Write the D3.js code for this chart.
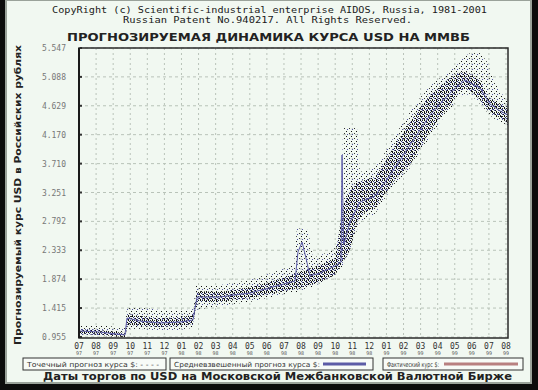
<!DOCTYPE html>
<html>
<head>
<meta charset="utf-8">
<script src="https://cdn.jsdelivr.net/npm/d3@7"></script>
<style>
    body { margin: 0; background: #0c0c0c; }
    svg { display: block; }
</style>
</head>
<body>
<div id="chart"></div>
<script>
var months = ["07", "08", "09", "10", "11", "12", "01", "02", "03", "04", "05", "06", "07",
    "08", "09", "10", "11", "12", "01", "02", "03", "04", "05", "06", "07", "08"];
var years = ["97", "97", "97", "97", "97", "97", "98", "98", "98", "98", "98", "98", "98",
    "98", "98", "98", "98", "98", "99", "99", "99", "99", "99", "99", "99", "99"];
var y_ticks = [0.955, 1.415, 1.874, 2.333, 2.792, 3.251, 3.710, 4.170, 4.629, 5.088, 5.547];

// t = months since July 1997
// whole cloud of point forecasts (sparse edge)
var cloud_t = [0, 1.23, 2.69, 2.81, 3.57, 4.74, 5.91, 6.67, 6.85, 8.26, 10.01, 11.77, 12.59, 12.76,
    13.41, 13.70, 14.87, 15.28, 15.46, 16.28, 16.45, 17.33, 17.92, 18.50, 19.38, 19.96, 20.55,
    21.14, 21.72, 22.19, 22.60, 23.01, 23.48, 23.89, 24.24, 24.65, 25.12];
var cloud_hi = [1.146, 1.146, 1.098, 1.416, 1.432, 1.384, 1.368, 1.400, 1.765, 1.781, 1.861, 2.020, 2.099, 2.687,
    2.655, 2.210, 2.337, 2.496, 4.276, 4.276, 3.577, 3.640, 3.894, 4.165, 4.530, 4.752, 4.943,
    5.070, 5.197, 5.293, 5.420, 5.483, 5.483, 5.324, 5.070, 4.848, 4.721];
var cloud_lo = [0.971, 0.971, 0.955, 1.082, 1.082, 1.050, 1.066, 1.098, 1.384, 1.448, 1.511, 1.622, 1.670, 1.670,
    1.734, 1.749, 1.924, 2.020, 2.083, 2.655, 2.782, 2.909, 3.163, 3.386, 3.640, 3.894, 4.133,
    4.371, 4.562, 4.752, 4.816, 4.784, 4.657, 4.530, 4.435, 4.371, 4.308];

// dense core of the point forecasts
var core_t = [0, 1.23, 2.69, 2.87, 3.57, 4.74, 5.91, 6.67, 6.91, 8.26, 10.01, 11.77, 12.94, 14.11, 14.99,
    15.46, 15.87, 16.28, 16.74, 17.33, 17.92, 18.50, 19.38, 19.96, 20.55, 21.14, 21.72, 22.19,
    22.60, 23.01, 23.48, 23.89, 24.24, 24.65, 25.12];
var core_hi = [1.082, 1.066, 1.019, 1.320, 1.289, 1.257, 1.273, 1.305, 1.686, 1.670, 1.749, 1.876, 1.988, 2.099, 2.210,
    3.052, 3.291, 3.418, 3.449, 3.497, 3.735, 4.006, 4.371, 4.594, 4.800, 4.943, 5.070, 5.150,
    5.166, 5.118, 5.038, 4.784, 4.721, 4.657, 4.609];
var core_lo = [1.003, 0.987, 0.955, 1.146, 1.130, 1.114, 1.130, 1.162, 1.511, 1.511, 1.575, 1.670, 1.734, 1.829, 1.940,
    2.147, 2.337, 2.782, 2.941, 3.005, 3.227, 3.450, 3.688, 3.958, 4.212, 4.451, 4.625, 4.848,
    4.911, 4.848, 4.721, 4.562, 4.498, 4.435, 4.355];

// weighted forecast
var avg_t = [0, 1.23, 2.69, 2.81, 3.57, 4.74, 5.91, 6.67, 6.91, 8.26, 10.01, 11.77, 12.65, 12.82, 13.06,
    13.29, 13.52, 14.11, 14.99, 15.34, 15.40, 15.49, 15.87, 16.45, 17.33, 18.21, 19.38, 20.55,
    21.72, 22.60, 23.48, 24.06, 24.65, 25.12];
var avg_v = [1.050, 1.034, 0.987, 1.257, 1.209, 1.177, 1.193, 1.225, 1.591, 1.591, 1.654, 1.781, 1.845, 2.306, 2.464,
    2.210, 1.924, 1.972, 2.083, 2.147, 3.847, 2.417, 2.782, 3.100, 3.195, 3.529, 4.006, 4.482,
    4.832, 5.038, 4.911, 4.657, 4.546, 4.482];

var legend_items = ["Точечный прогноз курса $: - - - -", "Средневзвешенный прогноз курса $:", "Фактический курс $:"];

function draw_chart() {
    var left = 79, right = 508, top = 48, bottom = 338;

    var svg = d3.select("#chart")
        .append("svg")
        .attr("width", 538)
        .attr("height", 390);

    svg.append("rect").attr("width", 538).attr("height", 390).attr("fill", "#0c0c0c");
    svg.append("rect")
        .attr("x", 6).attr("y", 0).attr("width", 525).attr("height", 383)
        .attr("fill", "#f1f8f1").attr("stroke", "#9aa29a").attr("stroke-width", 2);

    var x = d3.scaleLinear().domain([0, 25]).range([left, 506]);
    var y = d3.scaleLinear().domain([0.955, 5.547]).range([337, top]);

    var defs = svg.append("defs");
    defs.append("clipPath").attr("id", "plot-clip")
        .append("rect").attr("x", left).attr("y", top).attr("width", right - left).attr("height", bottom - top);

    // dot textures for the cloud
    var dense = defs.append("pattern").attr("id", "dense")
        .attr("patternUnits", "userSpaceOnUse").attr("width", 4).attr("height", 4);
    [[0, 0, "#0a0a0a"], [2, 0, "#222"], [1, 1, "#34347c"], [3, 2, "#111"], [0, 3, "#1c1c1c"], [2, 2, "#4a4a98"]]
        .forEach(function (d) {
            dense.append("rect").attr("x", d[0]).attr("y", d[1]).attr("width", 1).attr("height", 1).attr("fill", d[2]);
        });
    var sparse = defs.append("pattern").attr("id", "sparse")
        .attr("patternUnits", "userSpaceOnUse").attr("width", 5).attr("height", 5);
    [[1, 1, "#111"], [4, 3, "#333"], [2, 4, "#5252a0"]]
        .forEach(function (d) {
            sparse.append("rect").attr("x", d[0]).attr("y", d[1]).attr("width", 1).attr("height", 1).attr("fill", d[2]);
        });

    // titles
    svg.append("text")
        .attr("x", 52).attr("y", 13)
        .attr("textLength", 435).attr("lengthAdjust", "spacingAndGlyphs")
        .style("font-family", "DejaVu Sans Mono").style("font-size", "9.5px").style("fill", "#1a1a1a")
        .text("CopyRight (c) Scientific-industrial enterprise AIDOS, Russia, 1981-2001");
    svg.append("text")
        .attr("x", 123).attr("y", 23)
        .attr("textLength", 289).attr("lengthAdjust", "spacingAndGlyphs")
        .style("font-family", "DejaVu Sans Mono").style("font-size", "9.5px").style("fill", "#1a1a1a")
        .text("Russian Patent No.940217. All Rights Reserved.");
    svg.append("text")
        .attr("x", 67).attr("y", 41)
        .attr("textLength", 403).attr("lengthAdjust", "spacingAndGlyphs")
        .style("font-family", "DejaVu Sans").style("font-weight", "bold").style("font-size", "11px").style("fill", "#222")
        .text("ПРОГНОЗИРУЕМАЯ ДИНАМИКА КУРСА USD НА ММВБ");

    // y axis title
    svg.append("text")
        .attr("transform", "translate(21,345) rotate(-90)")
        .attr("textLength", 300).attr("lengthAdjust", "spacingAndGlyphs")
        .style("font-family", "DejaVu Sans").style("font-weight", "bold").style("font-size", "8px").style("fill", "#222")
        .text("Прогнозируемый курс USD в Российских рублях");

    // grid
    var grid = svg.append("g");
    grid.selectAll(".vgrid")
        .data(months)
        .enter().append("line")
        .attr("x1", function (d, i) { return x(i); })
        .attr("x2", function (d, i) { return x(i); })
        .attr("y1", top).attr("y2", bottom)
        .attr("stroke", "#b9c3b9").attr("stroke-dasharray", "2,3");
    grid.selectAll(".hgrid")
        .data(y_ticks)
        .enter().append("line")
        .attr("x1", left).attr("x2", right)
        .attr("y1", function (d) { return y(d); })
        .attr("y2", function (d) { return y(d); })
        .attr("stroke", "#b9c3b9").attr("stroke-dasharray", "3,3");

    // y tick labels
    svg.selectAll(".ylab")
        .data(y_ticks)
        .enter().append("text")
        .attr("x", 66)
        .attr("y", function (d) { return y(d) + 3; })
        .attr("text-anchor", "end")
        .style("font-family", "DejaVu Sans Mono").style("font-size", "8px").style("fill", "#777")
        .text(function (d) { return d.toFixed(3); });
    svg.selectAll(".ytick")
        .data(y_ticks)
        .enter().append("rect")
        .attr("x", left + 1).attr("y", function (d) { return y(d) - 1; })
        .attr("width", 2).attr("height", 2).attr("fill", "#333");

    // x tick labels
    svg.selectAll(".mlab")
        .data(months)
        .enter().append("text")
        .attr("x", function (d, i) { return x(i); })
        .attr("y", 349)
        .attr("text-anchor", "middle")
        .style("font-family", "DejaVu Sans Mono").style("font-size", "8px").style("fill", "#333")
        .text(function (d) { return d; });
    svg.selectAll(".ylab2")
        .data(years)
        .enter().append("text")
        .attr("x", function (d, i) { return x(i); })
        .attr("y", 355)
        .attr("text-anchor", "middle")
        .style("font-family", "DejaVu Sans Mono").style("font-size", "5px").style("fill", "#555")
        .text(function (d) { return d; });

    // cloud and lines
    var plot = svg.append("g").attr("clip-path", "url(#plot-clip)");

    var cloud = cloud_t.map(function (t, i) { return { t: t, lo: cloud_lo[i], hi: cloud_hi[i] }; });
    var core = core_t.map(function (t, i) { return { t: t, lo: core_lo[i], hi: core_hi[i] }; });
    var avg = avg_t.map(function (t, i) { return { t: t, v: avg_v[i] }; });

    var band = d3.area()
        .x(function (d) { return x(d.t); })
        .y0(function (d) { return y(d.lo); })
        .y1(function (d) { return y(d.hi); });

    plot.append("path").datum(cloud).attr("d", band).attr("fill", "url(#sparse)");
    plot.append("path").datum(core).attr("d", band).attr("fill", "url(#dense)");

    plot.append("path").datum(avg)
        .attr("d", d3.line()
            .x(function (d) { return x(d.t); })
            .y(function (d) { return y(d.v); }))
        .attr("fill", "none").attr("stroke", "#5c5ca6").attr("stroke-width", 1);

    // frame
    svg.append("rect")
        .attr("x", left).attr("y", top).attr("width", right - left).attr("height", bottom - top)
        .attr("fill", "none").attr("stroke", "#2a2a2a").attr("stroke-width", 1.5);
    svg.append("line")
        .attr("x1", left).attr("x2", left).attr("y1", top).attr("y2", bottom)
        .attr("stroke", "#1a1a1a").attr("stroke-width", 2);

    // legend boxes
    var boxes = [[23, 166], [170, 373], [383, 523]];
    var text_w = [132, 146, 52];
    var leg = svg.selectAll(".leg")
        .data(legend_items)
        .enter().append("g");
    leg.append("rect")
        .attr("x", function (d, i) { return boxes[i][0]; })
        .attr("y", 358).attr("height", 12)
        .attr("width", function (d, i) { return boxes[i][1] - boxes[i][0]; })
        .attr("fill", "#f7fbf7").attr("stroke", "#333").attr("stroke-width", 1);
    leg.append("text")
        .attr("x", function (d, i) { return boxes[i][0] + 4; })
        .attr("y", 367)
        .attr("textLength", function (d, i) { return text_w[i]; })
        .attr("lengthAdjust", "spacingAndGlyphs")
        .style("font-family", "DejaVu Sans").style("font-size", "7px").style("fill", "#333")
        .text(function (d) { return d; });
    svg.append("line")
        .attr("x1", 323).attr("x2", 366).attr("y1", 364).attr("y2", 364)
        .attr("stroke", "#5c5ca6").attr("stroke-width", 3);
    svg.append("line")
        .attr("x1", 444).attr("x2", 518).attr("y1", 364).attr("y2", 364)
        .attr("stroke", "#b88080").attr("stroke-width", 3);

    // bottom caption
    svg.append("text")
        .attr("x", 43).attr("y", 380)
        .attr("textLength", 469).attr("lengthAdjust", "spacingAndGlyphs")
        .style("font-family", "DejaVu Sans").style("font-weight", "bold").style("font-size", "10px").style("fill", "#222")
        .text("Даты торгов по USD на Московской Межбанковской Валютной Бирже");
}

draw_chart();
</script>
</body>
</html>
